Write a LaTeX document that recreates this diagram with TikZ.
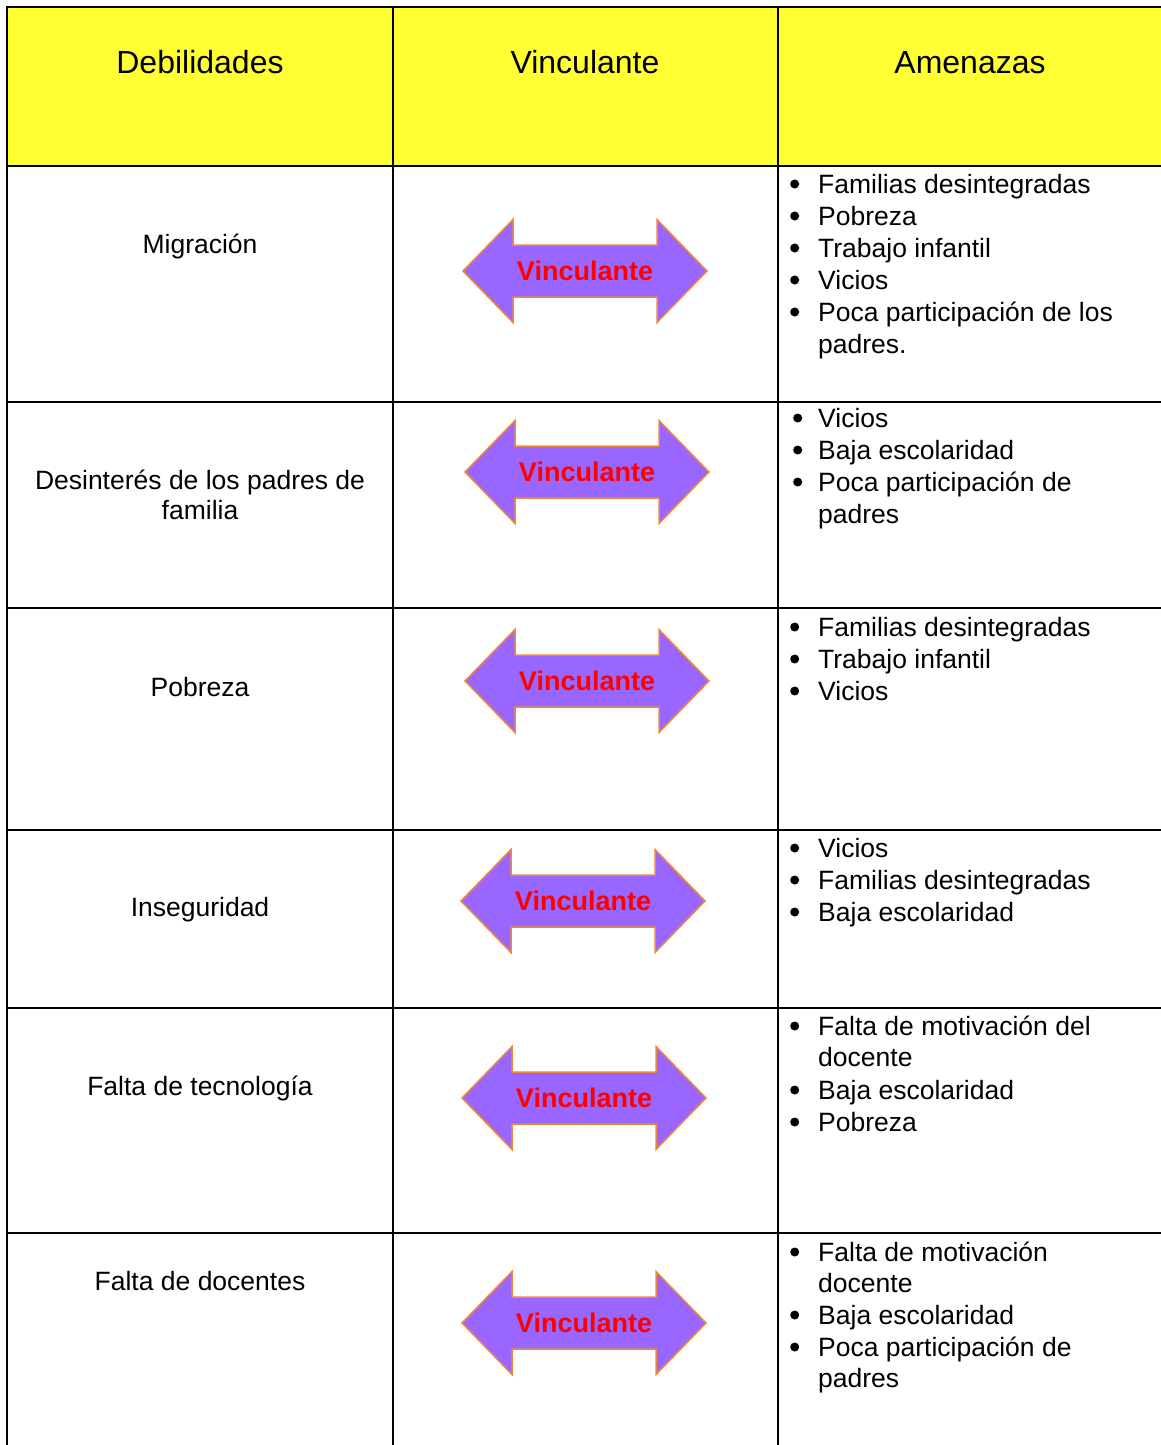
\documentclass[tikz,border=0pt]{standalone}
\usepackage{fontspec}
\setmainfont{Liberation Sans}
\definecolor{hdr}{HTML}{FFFF33}
\definecolor{arrfill}{HTML}{9966FF}
\definecolor{arrline}{HTML}{F0883A}
\newcommand{\bulw}[1]{\makebox[#1pt][l]{\tikz[baseline=0pt]\fill (4.5pt,9pt) circle[radius=4.5pt];}}
\newcommand{\bul}{\bulw{28}}
\newcommand{\bulb}{\bulw{25}}
\newcommand{\vinc}[3]{%
  \draw[varrow, shift={(#2,#3)}] (-122,0) -- (-72,-51.5) -- (-72,-26) -- (72,-26) -- (72,-51.5) -- (122,0)
     -- (72,51.5) -- (72,26) -- (-72,26) -- (-72,51.5) -- cycle;
  \node[vtext] (#1) at (#2,#3+9) {Vinculante};}
\begin{document}
\begin{tikzpicture}[x=1pt,y=-1pt,
  grid/.style={line width=2pt, black},
  hdrtext/.style={inner sep=0, anchor=base, font=\fontsize{32}{38}\selectfont},
  celltext/.style={inner sep=0, anchor=base, font=\fontsize{26.5}{32}\selectfont},
  itm/.style={inner sep=0, anchor=base west, font=\fontsize{26.5}{32}\selectfont},
  varrow/.style={fill=arrfill, draw=arrline, line width=1.5pt, line join=miter},
  vtext/.style={inner sep=0, anchor=base, text=red, font=\fontsize{27}{32}\selectfont\bfseries}]
\useasboundingbox (0,0) rectangle (1161,1445);
\clip (0,0) rectangle (1161,1445);
\fill[white] (0,0) rectangle (1161,1445);
% header
\fill[hdr] (7,7) rectangle (1163,166);
% grid
\foreach \yy in {7,166,402,608,830,1008,1233} \draw[grid] (6,\yy) -- (1163,\yy);
\foreach \xx in {7,393,778,1162} \draw[grid] (\xx,6) -- (\xx,1450);
% header texts
\node[hdrtext] (h1) at (200,73.5) {Debilidades};
\node[hdrtext] (h2) at (585,73.5) {Vinculante};
\node[hdrtext] (h3) at (970,73.5) {Amenazas};
% debilidades
\node[celltext] (d1) at (200,253) {Migración};
\node[celltext] (d2a) at (200,489) {Desinterés de los padres de};
\node[celltext] (d2b) at (200,519) {familia};
\node[celltext] (d3) at (200,696) {Pobreza};
\node[celltext] (d4) at (200,916) {Inseguridad};
\node[celltext] (d5) at (200,1095) {Falta de tecnología};
\node[celltext] (d6) at (200,1290) {Falta de docentes};
% arrows
\vinc{v1}{585}{271}
\vinc{v2}{587}{472}
\vinc{v3}{587}{681}
\vinc{v4}{583}{901}
\vinc{v5}{584}{1098}
\vinc{v6}{584}{1323}
% amenazas row 1
\node[itm] (a11) at (790,193) {\bul Familias desintegradas};
\node[itm] (a12) at (790,225) {\bul Pobreza};
\node[itm] (a13) at (790,257) {\bul Trabajo infantil};
\node[itm] (a14) at (790,289) {\bul Vicios};
\node[itm] (a15) at (790,321) {\bul Poca participación de los};
\node[itm] (a16) at (818,353) {padres.};
% row 2
\node[itm] (a21) at (793,427) {\bulb Vicios};
\node[itm] (a22) at (793,459) {\bulb Baja escolaridad};
\node[itm] (a23) at (793,491) {\bulb Poca participación de};
\node[itm] (a24) at (818,523) {padres};
% row 3
\node[itm] (a31) at (790,636) {\bul Familias desintegradas};
\node[itm] (a32) at (790,668) {\bul Trabajo infantil};
\node[itm] (a33) at (790,700) {\bul Vicios};
% row 4
\node[itm] (a41) at (790,857) {\bul Vicios};
\node[itm] (a42) at (790,889) {\bul Familias desintegradas};
\node[itm] (a43) at (790,921) {\bul Baja escolaridad};
% row 5
\node[itm] (a51) at (790,1035) {\bul Falta de motivación del};
\node[itm] (a52) at (818,1066) {docente};
\node[itm] (a53) at (790,1099) {\bul Baja escolaridad};
\node[itm] (a54) at (790,1131) {\bul Pobreza};
% row 6
\node[itm] (a61) at (790,1261) {\bul Falta de motivación};
\node[itm] (a62) at (818,1292) {docente};
\node[itm] (a63) at (790,1324) {\bul Baja escolaridad};
\node[itm] (a64) at (790,1356) {\bul Poca participación de};
\node[itm] (a65) at (818,1387) {padres};
\end{tikzpicture}
\end{document}
